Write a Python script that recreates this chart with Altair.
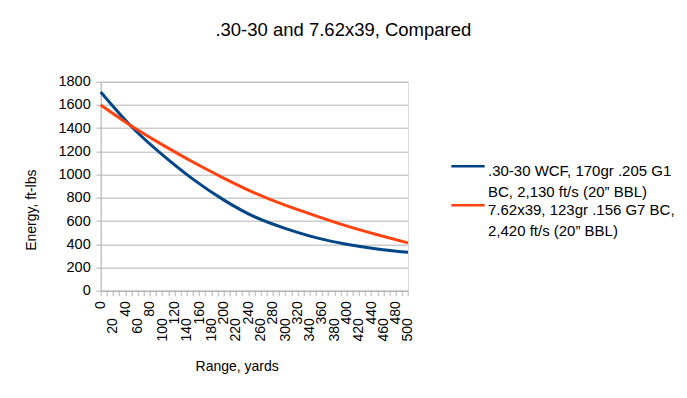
import altair as alt
import pandas as pd

# ---- data ----
ranges = [0, 50, 100, 150, 200, 250, 300, 350, 400, 450, 500]
energy_3030 = [1712, 1414, 1172, 961, 782, 637, 537, 457, 400, 360, 331]
energy_762 = [1599, 1418, 1258, 1108, 970, 843, 737, 645, 558, 482, 412]
series_names = [
    ".30-30 WCF, 170gr .205 G1\nBC, 2,130 ft/s (20\u201d BBL)",
    "7.62x39, 123gr .156 G7 BC,\n2,420 ft/s (20\u201d BBL)",
]
series_colors = ["#004586", "#ff420e"]
x_minor_ticks = list(range(0, 510, 10))
x_labels_row1 = list(range(0, 520, 40))
x_labels_row2 = list(range(20, 520, 40))
y_tick_values = list(range(0, 2000, 200))

rows = []
for name, vals in zip(series_names, [energy_3030, energy_762]):
    for r, v in zip(ranges, vals):
        rows.append({"range": r, "energy": v, "series": name})
df = pd.DataFrame(rows)

FONT = "Liberation Sans"
GRAY = "#b3b3b3"

x_scale = alt.Scale(domain=[0, 500], nice=False, zero=True)
y_scale = alt.Scale(domain=[0, 1800], nice=False)

y_axis = alt.Axis(
    values=y_tick_values,
    format="d",
    labelFont=FONT,
    labelFontSize=14.5,
    labelColor="black",
    labelPadding=5.5,
    tickSize=5,
    tickColor=GRAY,
    domainColor=GRAY,
    gridColor=GRAY,
    title="Energy, ft-lbs",
    titleFont=FONT,
    titleFontSize=14,
    titleFontWeight="normal",
    titleColor="black",
    titleAngle=270,
    titleX=-69,
    titleY=128,
    titleAlign="center",
    titleBaseline="middle",
)

row1_expr = "indexof(" + str(x_labels_row1) + ", datum.value) >= 0 ? datum.label : ''"

lines = (
    alt.Chart(df)
    .mark_line(strokeWidth=3, interpolate="natural")
    .encode(
        x=alt.X(
            "range:Q",
            scale=x_scale,
            axis=alt.Axis(
                orient="bottom",
                values=x_minor_ticks,
                labelExpr=row1_expr,
                labelAngle=270,
                labelAlign="right",
                labelBaseline="middle",
                labelOverlap=False,
                labelFlush=False,
                labelBound=False,
                labelFont=FONT,
                labelFontSize=14,
                labelColor="black",
                labelPadding=5,
                tickSize=5,
                tickColor=GRAY,
                domainColor=GRAY,
                grid=False,
                title="Range, yards",
                titleFont=FONT,
                titleFontSize=14,
                titleFontWeight="normal",
                titleColor="black",
                titleX=136,
                titleY=76,
                titleAlign="center",
                titleBaseline="middle",
            ),
        ),
        y=alt.Y("energy:Q", scale=y_scale, axis=y_axis),
        color=alt.Color(
            "series:N",
            scale=alt.Scale(domain=series_names, range=series_colors),
            legend=alt.Legend(
                title=None,
                orient="none",
                legendX=357.3,
                legendY=79.5,
                padding=0,
                labelExpr="split(datum.label, '\\n')",
                labelFont=FONT,
                labelFontSize=15,
                labelColor="black",
                labelLimit=0,
                labelBaseline="middle",
                labelOffset=10,
                symbolType="M-2,-0.6L2,-0.6",
                symbolSize=278,
                symbolStrokeWidth=2.5,
                rowPadding=-12,
            ),
        ),
    )
)

# second, invisible layer that only carries the staggered (lower) row of x labels
row2 = (
    alt.Chart(df)
    .mark_line(strokeOpacity=0)
    .encode(
        x=alt.X(
            "range:Q",
            scale=x_scale,
            axis=alt.Axis(
                orient="bottom",
                values=x_labels_row2,
                labelAngle=270,
                labelAlign="right",
                labelBaseline="middle",
                labelOverlap=False,
                labelFlush=False,
                labelBound=False,
                labelFont=FONT,
                labelFontSize=14,
                labelColor="black",
                labelPadding=27,
                ticks=False,
                domain=False,
                grid=False,
                title=None,
            ),
        ),
        y=alt.Y("energy:Q", scale=y_scale, axis=y_axis),
        detail="series:N",
    )
)

chart = (
    alt.layer(lines, row2)
    .resolve_axis(x="independent")
    .properties(
        width=307.3,
        height=209,
        title=alt.TitleParams(
            ".30-30 and 7.62x39, Compared",
            font=FONT,
            fontSize=18.5,
            fontWeight="normal",
            color="black",
            anchor="middle",
            dx=89,
            dy=-30.5,
        ),
        autosize=alt.AutoSizeParams(type="none"),
        padding={"left": 92.7, "top": 73.7, "right": 271, "bottom": 99},
    )
    .configure_view(stroke=GRAY, strokeWidth=1)
    .configure(background="white", style={"guide-label": {"lineHeight": 20.5}})
)

chart.save("out.html", embed_options={"renderer": "svg", "actions": False})
